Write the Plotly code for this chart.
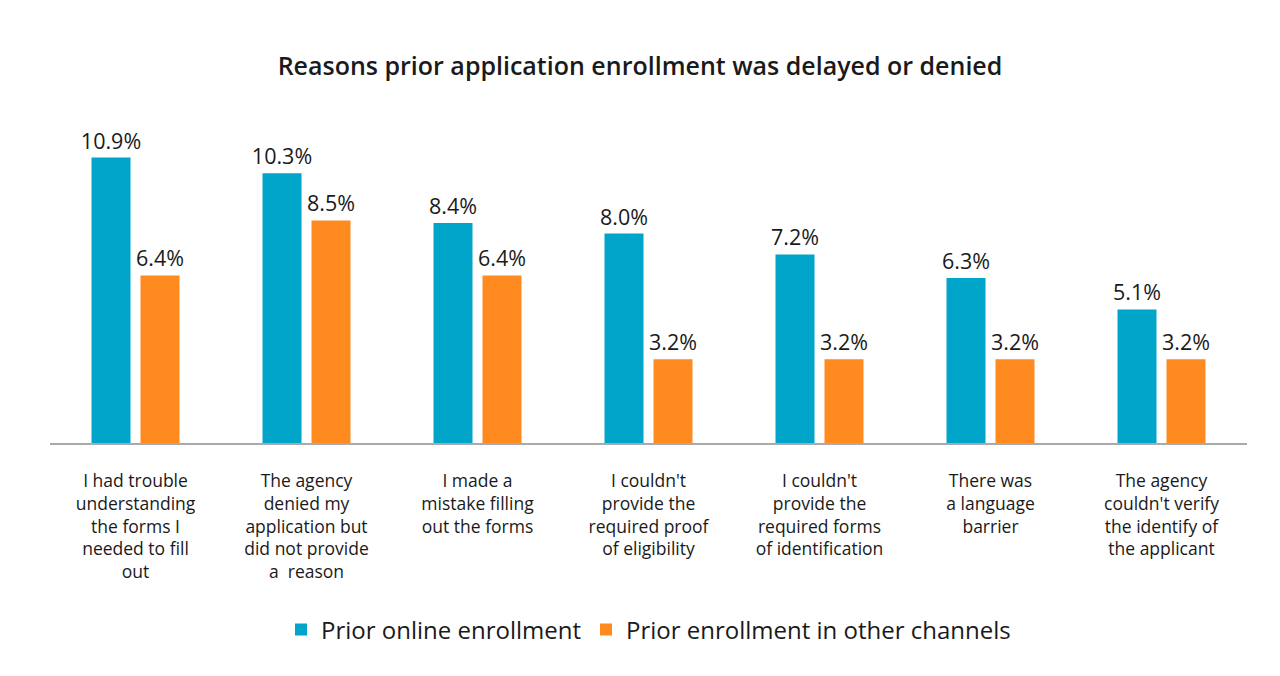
import plotly.graph_objects as go

categories = [
    "I had trouble<br>understanding<br>the forms I<br>needed to fill<br>out",
    "The agency<br>denied my<br>application but<br>did not provide<br>a  reason",
    "I made a<br>mistake filling<br>out the forms",
    "I couldn't<br>provide the<br>required proof<br>of eligibility",
    "I couldn't<br>provide the<br>required forms<br>of identification",
    "There was<br>a language<br>barrier",
    "The agency<br>couldn't verify<br>the identify of<br>the applicant",
]
online = [10.9, 10.3, 8.4, 8.0, 7.2, 6.3, 5.1]
other = [6.4, 8.5, 6.4, 3.2, 3.2, 3.2, 3.2]

FONT = "Open Sans"
TXT = "#1a1a1a"

fig = go.Figure()
for name, vals, color in [
    ("Prior online enrollment", online, "#00A5C9"),
    ("Prior enrollment in other channels", other, "#FF8A20"),
]:
    fig.add_trace(go.Bar(
        x=categories, y=vals, name=name,
        marker=dict(color=color, line=dict(width=0)),
        text=[f"{v:.1f}%" for v in vals], textposition="outside",
        constraintext="none",
        textfont=dict(size=21.5, color=TXT, family=FONT), cliponaxis=False,
    ))

fig.update_layout(
    width=1280, height=676,
    margin=dict(l=50, r=33, t=100, b=233),
    paper_bgcolor="white", plot_bgcolor="white",
    barmode="group", bargap=0.427, bargroupgap=0.204,
    font=dict(family=FONT, color=TXT),
    title=dict(text="Reasons prior application enrollment was delayed or denied",
               x=0.5, xanchor="center", y=0.902, yanchor="middle",
               font=dict(size=25, color=TXT, family=FONT, weight=600)),
    showlegend=True,
    legend=dict(orientation="h", x=0.5, xanchor="center", y=-0.545, yanchor="middle",
                font=dict(size=24, color=TXT, family=FONT), itemwidth=30,
                traceorder="normal"),
)
fig.update_xaxes(
    showline=True, linecolor="#A9A9B0", linewidth=2, ticks="", showgrid=False,
    tickfont=dict(size=17.5, color=TXT, family=FONT), ticklabelstandoff=21,
    tickangle=0,
)
fig.update_yaxes(visible=False, range=[0, 13.1], showgrid=False, zeroline=False)

fig.write_html("out.html")
